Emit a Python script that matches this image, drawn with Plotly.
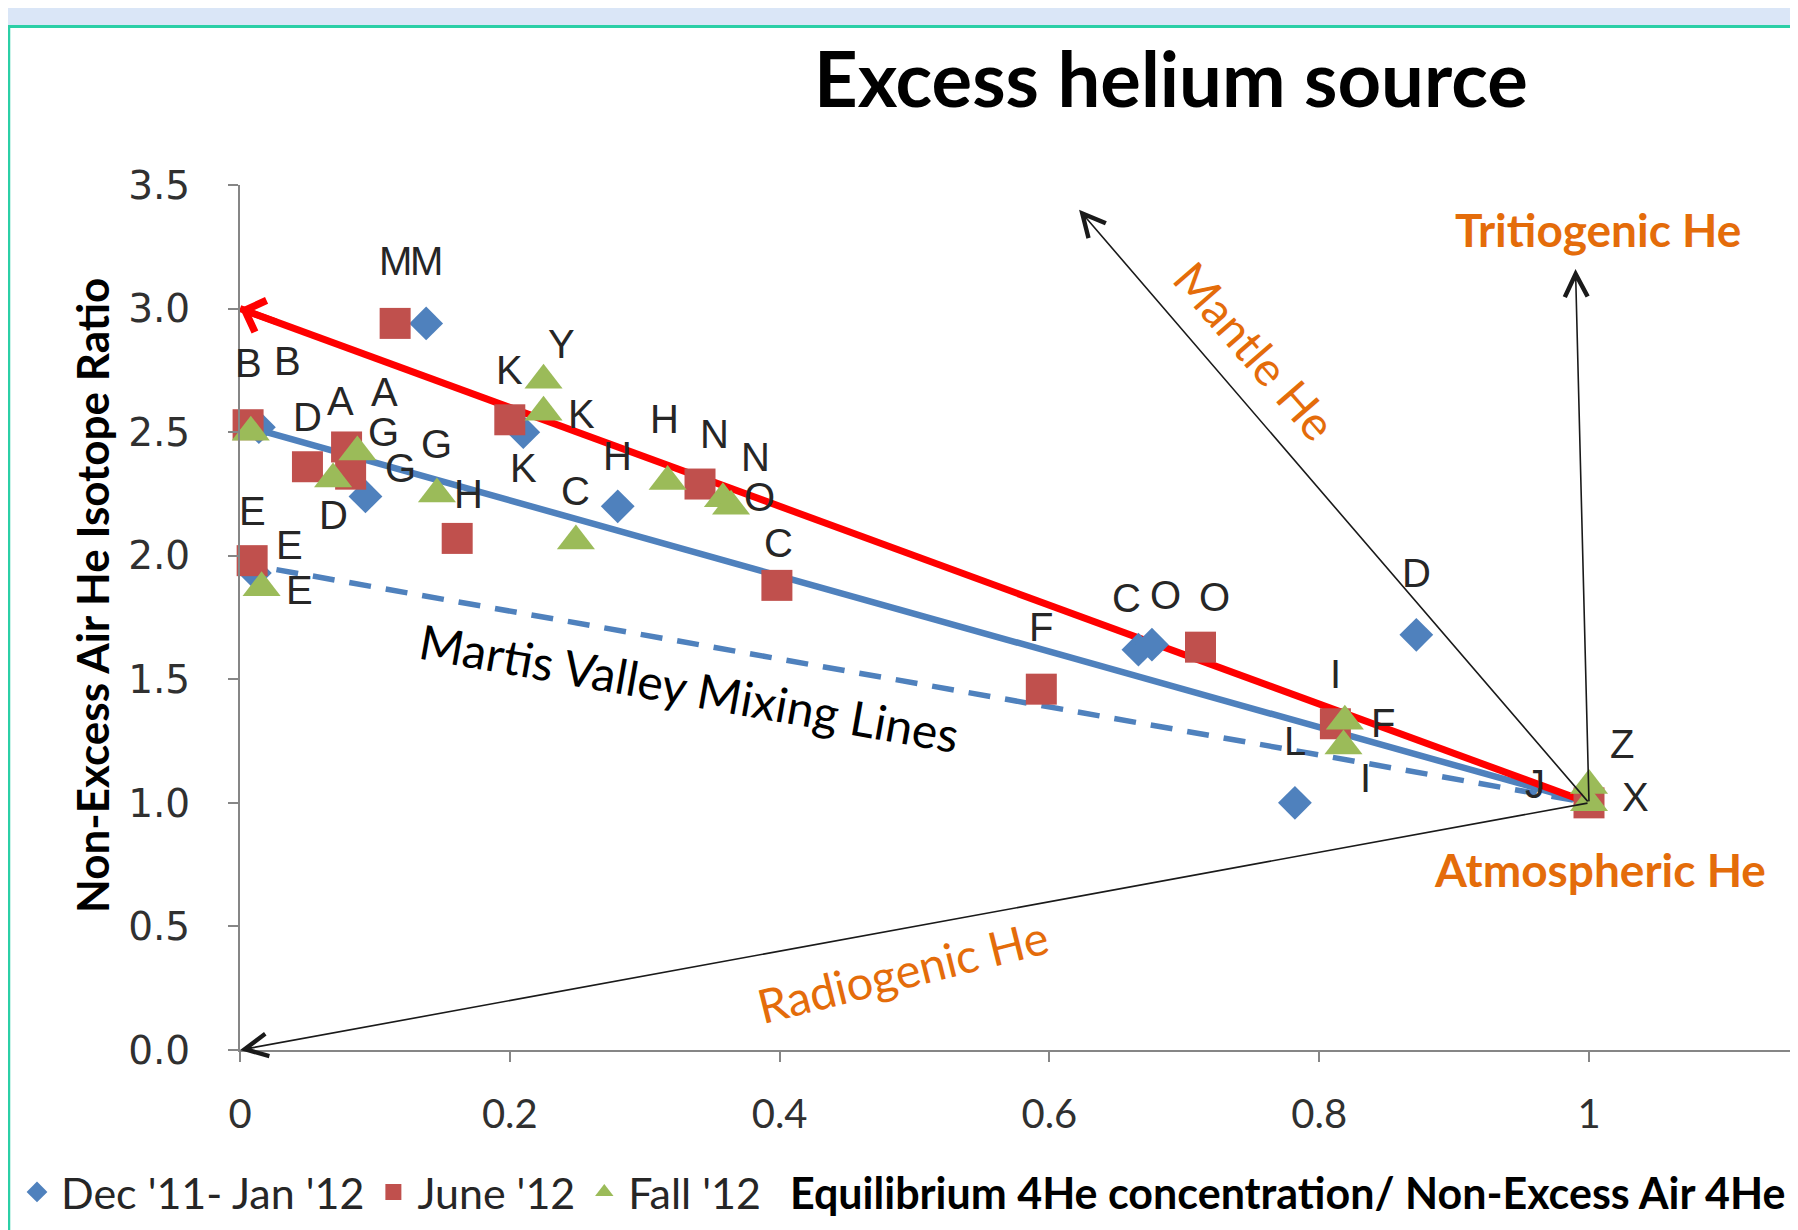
import plotly.graph_objects as go

# ---------------- data ----------------
dec_labels = ["M", "B", "E", "G", "K", "H", "C", "O", "D", "L"]
dec_x = [0.138, 0.014, 0.011, 0.093, 0.210, 0.280, 0.666, 0.676, 0.872, 0.782]
dec_y = [2.94, 2.52, 1.93, 2.24, 2.50, 2.20, 1.62, 1.64, 1.68, 1.00]

jun_labels = ["M", "B", "E", "D", "A", "G", "H", "K", "N", "C", "F", "O", "I", "J"]
jun_x = [0.115, 0.006, 0.009, 0.050, 0.079, 0.082, 0.161, 0.200, 0.341, 0.398, 0.594, 0.712, 0.812, 1.0]
jun_y = [2.94, 2.53, 1.98, 2.36, 2.44, 2.33, 2.07, 2.55, 2.29, 1.88, 1.46, 1.63, 1.32, 1.0]

fall_labels = ["B", "E", "A", "D", "G", "Y", "K", "C", "H", "N", "O", "F", "I", "Z", "X"]
fall_x = [0.008, 0.016, 0.087, 0.069, 0.146, 0.225, 0.225, 0.249, 0.317, 0.358, 0.364, 0.819, 0.818, 1.0, 1.0]
fall_y = [2.50, 1.87, 2.42, 2.31, 2.25, 2.71, 2.58, 2.06, 2.30, 2.23, 2.20, 1.33, 1.23, 1.07, 1.0]

series_names = ["Dec '11- Jan '12", "June '12", "Fall '12"]

# mixing lines (end members at x=0 and x=1)
mix_x = [0.0, 1.0]
mix_upper_y = [3.0, 1.0]
mix_solid_y = [2.53, 1.0]
mix_dash_y = [1.97, 1.0]

# helium source arrows, all starting from atmospheric He (1, 1)
atm_x, atm_y = 1.0, 1.0
source_names = ["Mantle He", "Tritiogenic He", "Radiogenic He", "Atmospheric He"]
source_end_x = [0.622, 0.99, 0.0]
source_end_y = [3.40, 3.16, 0.0]

x_ticks = [0, 0.2, 0.4, 0.6, 0.8, 1]
x_ticktext = ["0", "0.2", "0.4", "0.6", "0.8", "1"]
y_ticks = [0, 0.5, 1.0, 1.5, 2.0, 2.5, 3.0, 3.5]

# ---------------- label placement (style, pixel shifts) ----------------
dec_pos = ["TT", "TRT", "UR2", "UR2", "B", "T", "TL", "TR+", "TT", "TT"]
jun_pos = ["TT", "TT", "T", "T", "TA", "UR", "TH", "T", "TR+", "TS", "TT", "TR+", "T", "L"]
fall_pos = ["none", "R", "TR", "B", "T", "UR3", "R", "T", "TH2", "UR", "R2", "R", "BR", "UR", "RX"]
OFFS = {"T": (0, 50), "TT": (0, 62), "TL": (-12, 52), "TR+": (14, 50), "TR": (27, 60),
        "TRT": (29, 66), "UR": (33, 42), "UR2": (35, 28), "UR3": (18, 36), "TA": (-6, 46),
        "TH": (11, 44), "TH2": (-3, 63), "TS": (2, 42),
        "R": (38, -2), "RX": (46, 6), "R2": (28, 9), "B": (0, -36), "BR": (22, -32), "L": (-54, 19)}

BLUE = "#4F81BD"
RED = "#C0504D"
GREEN = "#9BBB59"
ORANGE = "#E46C0A"
AXIS = "#868686"

W, H = 1798, 1230
OFF = 8                      # page body margin
PL, PR = 240 - OFF, W        # plot area in figure pixels
PT, PB = 185 - OFF, 1050 - OFF
XMAX = (PR - PL) / 1349.0


def pxx(page_px):
    return (page_px - OFF - PL) / (PR - PL)


def pxy(page_py):
    return (PB - (page_py - OFF)) / (PB - PT)


fig = go.Figure()

# mixing lines
fig.add_trace(go.Scatter(x=mix_x, y=mix_dash_y, mode="lines", showlegend=False, hoverinfo="skip",
                         line=dict(color=BLUE, width=5.5, dash="22px,15px")))
fig.add_trace(go.Scatter(x=mix_x, y=mix_solid_y, mode="lines", showlegend=False, hoverinfo="skip",
                         line=dict(color=BLUE, width=6.5)))
fig.add_trace(go.Scatter(x=mix_x, y=mix_upper_y, mode="lines", showlegend=False, hoverinfo="skip",
                         line=dict(color="#FF0000", width=7)))

# data series
fig.add_trace(go.Scatter(x=dec_x, y=dec_y, mode="markers", name=series_names[0], cliponaxis=False,
                         marker=dict(symbol="diamond", size=26, color=BLUE)))
fig.add_trace(go.Scatter(x=jun_x, y=jun_y, mode="markers", name=series_names[1], cliponaxis=False,
                         marker=dict(symbol="square", size=31, color=RED)))
fig.add_trace(go.Scatter(x=fall_x, y=fall_y, mode="markers", name=series_names[2], cliponaxis=False,
                         marker=dict(symbol="triangle-up", size=33, color=GREEN)))

annotations = []

# point labels
for labels, xs, ys, pos in [(dec_labels, dec_x, dec_y, dec_pos),
                            (jun_labels, jun_x, jun_y, jun_pos),
                            (fall_labels, fall_x, fall_y, fall_pos)]:
    for lab, xv, yv, p in zip(labels, xs, ys, pos):
        if p == "none":
            continue
        dx, dy = OFFS[p]
        annotations.append(dict(x=xv, y=yv, xref="x", yref="y", text=lab, showarrow=False,
                                xanchor="center", yanchor="middle", xshift=dx, yshift=dy, borderpad=0,
                                font=dict(family="Liberation Sans, Arial", size=40, color="#262626")))

# red arrow head at the upper end member
ux = (mix_x[1] - mix_x[0]) * 1349.0
uy = (mix_upper_y[0] - mix_upper_y[1]) * 247.1
ln = (ux ** 2 + uy ** 2) ** 0.5
annotations.append(dict(x=mix_x[0], y=mix_upper_y[0], xref="x", yref="y", text="", showarrow=True,
                        ax=40 * ux / ln, ay=40 * uy / ln, arrowhead=4, arrowsize=1.0,
                        arrowwidth=6.5, arrowcolor="#FF0000", standoff=0))

# source arrows
for ex, ey in zip(source_end_x, source_end_y):
    annotations.append(dict(x=ex, y=ey, xref="x", yref="y", ax=atm_x, ay=atm_y, axref="x", ayref="y",
                            text="", showarrow=True, arrowhead=5, arrowsize=2.8, arrowwidth=1.6,
                            arrowcolor="#1a1a1a", standoff=0, startstandoff=0))

# source texts
orange_reg = dict(family="Lato, Liberation Sans", size=47, color=ORANGE)
orange_bold = dict(family="Lato, Liberation Sans", size=46, color=ORANGE)
annotations += [
    dict(x=0.753, y=2.83, xref="x", yref="y", text=source_names[0], showarrow=False, textangle=49,
         font=orange_reg),
    dict(x=1.007, y=3.32, xref="x", yref="y", text="<b>" + source_names[1] + "</b>", showarrow=False,
         font=orange_bold),
    dict(x=0.491, y=0.318, xref="x", yref="y", text=source_names[2], showarrow=False, textangle=-14,
         font=orange_reg),
    dict(x=1.008, y=0.73, xref="x", yref="y", text="<b>" + source_names[3] + "</b>", showarrow=False,
         font=orange_bold),
    dict(x=0.333, y=1.465, xref="x", yref="y", text="Martis Valley Mixing Lines", showarrow=False,
         textangle=10, font=dict(family="Lato, Liberation Sans", size=48, color="#000000")),
]

# title and axis titles
annotations += [
    dict(x=pxx(1171), y=pxy(77), xref="paper", yref="paper", text="<b>Excess helium source</b>",
         showarrow=False, xanchor="center", yanchor="middle",
         font=dict(family="Lato, Liberation Sans", size=76, color="#000000")),
    dict(x=pxx(92), y=pxy(596), xref="paper", yref="paper", text="<b>Non-Excess Air He Isotope Ratio</b>",
         showarrow=False, textangle=-90, xanchor="center", yanchor="middle",
         font=dict(family="Lato, Liberation Sans", size=44, color="#000000")),
    dict(x=pxx(1287), y=pxy(1192), xref="paper", yref="paper",
         text="<b>Equilibrium 4He concentration/ Non-Excess Air 4He</b>",
         showarrow=False, xanchor="center", yanchor="middle",
         font=dict(family="Lato, Liberation Sans", size=43, color="#000000")),
]

# decorative frame (slide band and border)
shapes = [
    dict(type="rect", xref="paper", yref="paper", x0=pxx(0), x1=pxx(W + OFF), y0=pxy(25), y1=pxy(OFF),
         fillcolor="#DAE6F7", line=dict(width=0), layer="below"),
    dict(type="line", xref="paper", yref="paper", x0=pxx(0), x1=pxx(W + OFF), y0=pxy(26.5), y1=pxy(26.5),
         line=dict(color="#2BCFA6", width=3)),
    dict(type="line", xref="paper", yref="paper", x0=pxx(OFF + 1), x1=pxx(OFF + 1), y0=pxy(26.5),
         y1=pxy(H + OFF), line=dict(color="#2BCFA6", width=2.5)),
]

fig.update_layout(
    width=W, height=H, autosize=False,
    margin=dict(l=PL, r=W - PR, t=PT, b=H - PB, pad=0),
    paper_bgcolor="white", plot_bgcolor="white",
    annotations=annotations, shapes=shapes,
    showlegend=True,
    legend=dict(orientation="h", x=pxx(13), xanchor="left", y=pxy(1192), yanchor="middle",
                font=dict(family="Lato, Liberation Sans", size=43, color="#262626"),
                bgcolor="rgba(0,0,0,0)", itemsizing="trace", itemwidth=38, traceorder="normal"),
    xaxis=dict(range=[0, XMAX], tickvals=x_ticks, ticktext=x_ticktext, showgrid=False, zeroline=False,
               showline=True, linecolor=AXIS, linewidth=2, ticks="outside", ticklen=10, tickwidth=1.5,
               tickcolor=AXIS, ticklabelstandoff=18,
               tickfont=dict(family="Liberation Sans Narrow, Arial Narrow, Lato", size=40, color="#303030")),
    yaxis=dict(range=[0, 3.5], tickvals=y_ticks, tickformat=".1f", showgrid=False, zeroline=False,
               showline=True, linecolor=AXIS, linewidth=2, ticks="outside", ticklen=10, tickwidth=1.5,
               tickcolor=AXIS, ticklabelstandoff=30,
               tickfont=dict(family="DejaVu Sans", size=39, color="#303030")),
)

fig.write_html("out.html")
